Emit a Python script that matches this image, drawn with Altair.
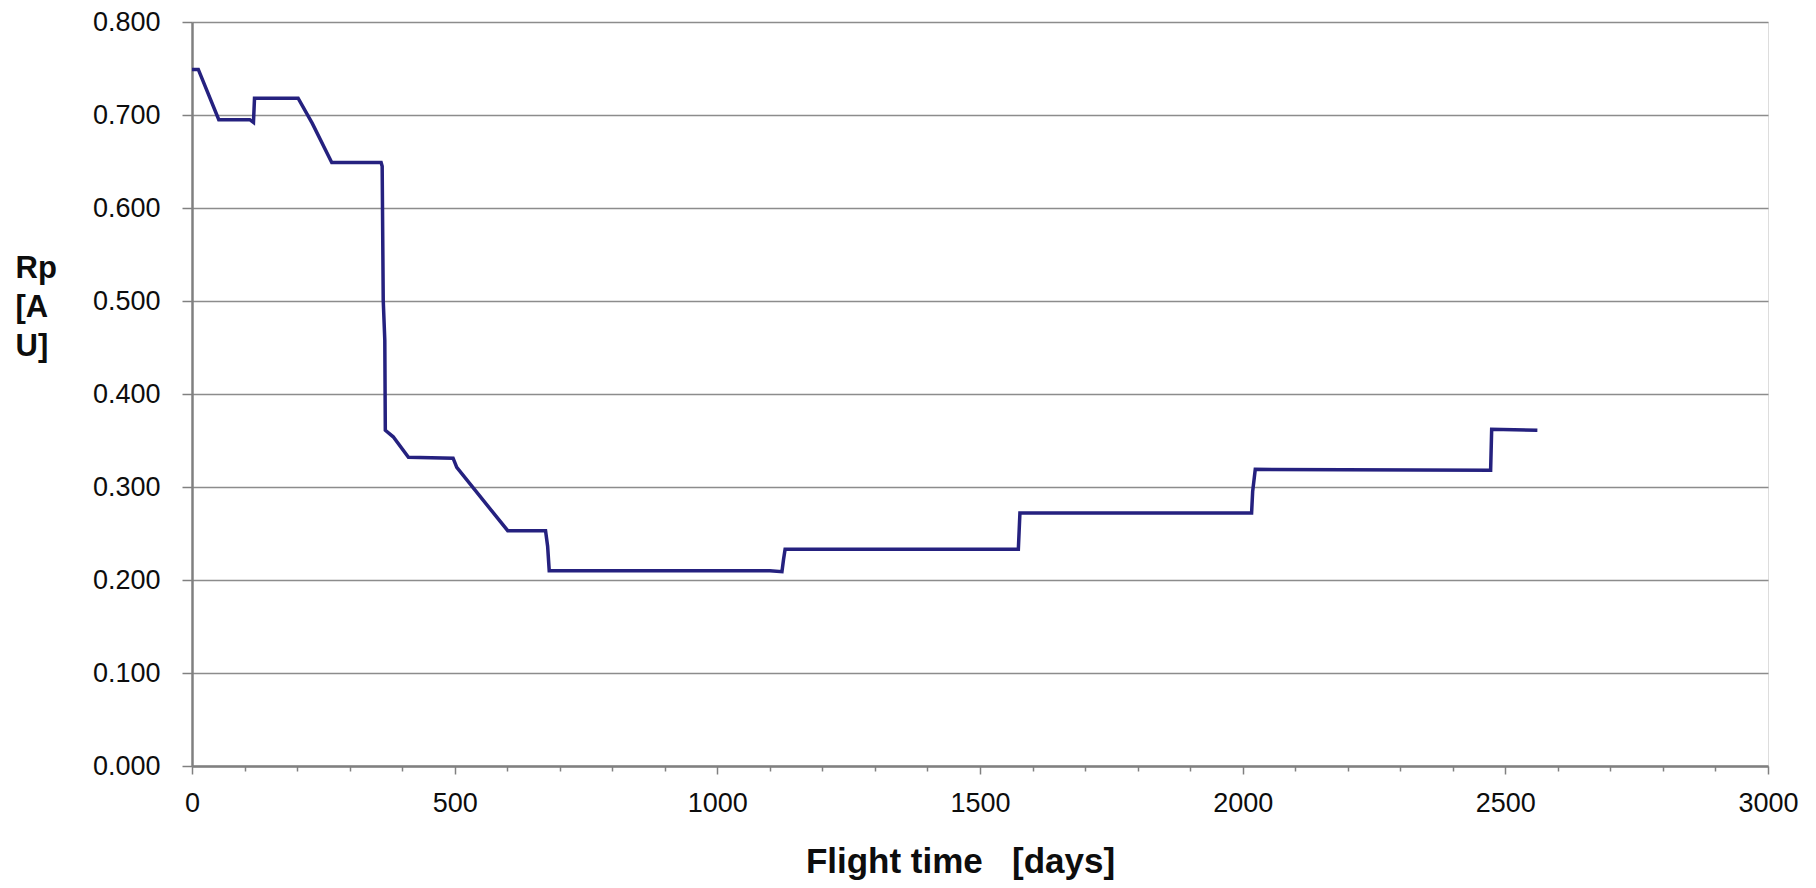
import altair as alt
import pandas as pd

# Flight time [days] and Rp [AU]
days = [0, 12, 51, 110, 117, 119, 202, 229, 266, 360, 362, 364, 367, 368, 383, 412,
        497, 504, 601, 673, 677, 680, 1100, 1123, 1126, 1129, 1573, 1576, 2017, 2019,
        2024, 2472, 2474, 2561]
rp = [0.749, 0.749, 0.695, 0.695, 0.692, 0.718, 0.718, 0.691, 0.649, 0.649, 0.645,
      0.501, 0.458, 0.361, 0.354, 0.332, 0.331, 0.321, 0.253, 0.253, 0.236, 0.210,
      0.210, 0.209, 0.222, 0.233, 0.233, 0.272, 0.272, 0.295, 0.319, 0.318, 0.362,
      0.361]

x_major = [0, 500, 1000, 1500, 2000, 2500, 3000]
x_minor = [100, 200, 300, 400, 600, 700, 800, 900, 1100, 1200, 1300, 1400, 1600, 1700,
           1800, 1900, 2100, 2200, 2300, 2400, 2600, 2700, 2800, 2900]
y_ticks = [0.0, 0.1, 0.2, 0.3, 0.4, 0.5, 0.6, 0.7, 0.8]

df = pd.DataFrame({"day": days, "rp": rp})
minor_df = pd.DataFrame({"day": x_minor})

FONT = "Liberation Sans"
AXIS_GRAY = "#808080"
TEXT = "#0d0d0d"

xscale = alt.Scale(domain=[0, 3000], nice=False, zero=False)

line = alt.Chart(df).mark_line(color="#25217f", strokeWidth=3.5).encode(
    x=alt.X("day:Q", scale=xscale,
            axis=alt.Axis(values=x_major, format="d", orient="bottom",
                          tickSize=8, tickWidth=1.5, tickColor=AXIS_GRAY,
                          domainColor=AXIS_GRAY, domainWidth=2.5,
                          labelFontSize=27, labelPadding=16, labelColor=TEXT,
                          labelFont=FONT, grid=False, labelFlush=False,
                          title="Flight time\u00a0\u00a0\u00a0[days]",
                          titleFont=FONT, titleFontSize=35, titleFontWeight="bold",
                          titleColor=TEXT, titleX=768, titleY=106,
                          titleAlign="center", titleBaseline="alphabetic")),
    y=alt.Y("rp:Q", scale=alt.Scale(domain=[0, 0.8], nice=False),
            axis=alt.Axis(values=y_ticks, format=".3f", orient="left",
                          tickSize=10, tickWidth=1.5, tickColor=AXIS_GRAY,
                          domainColor=AXIS_GRAY, domainWidth=2.5,
                          grid=True, gridColor="#8c8c8c", gridWidth=1.5,
                          labelFontSize=27, labelPadding=22, labelColor=TEXT,
                          labelFont=FONT, labelFlush=False,
                          title=["Rp", "[A", "U]"], titleAngle=0,
                          titleAlign="left", titleBaseline="alphabetic",
                          titleX=-177, titleY=255, titleFont=FONT,
                          titleFontSize=31, titleFontWeight="bold",
                          titleLineHeight=39, titleColor=TEXT)),
)

minor = alt.Chart(minor_df).mark_point(opacity=0).encode(
    x=alt.X("day:Q", scale=xscale,
            axis=alt.Axis(values=x_minor, orient="bottom", labels=False,
                          domain=False, grid=False, tickSize=5, tickWidth=1.5,
                          tickColor=AXIS_GRAY, title=None)),
)

chart = alt.layer(minor, line).resolve_scale(x="independent").properties(
    width=1576,
    height=744,
    autosize=alt.AutoSizeParams(type="none"),
    padding={"left": 184, "top": 14, "right": 40, "bottom": 114},
).configure_view(
    stroke="#999999", strokeWidth=2.5
).configure(background="white")

chart.save("out.html", embed_options={"renderer": "svg", "actions": False})
